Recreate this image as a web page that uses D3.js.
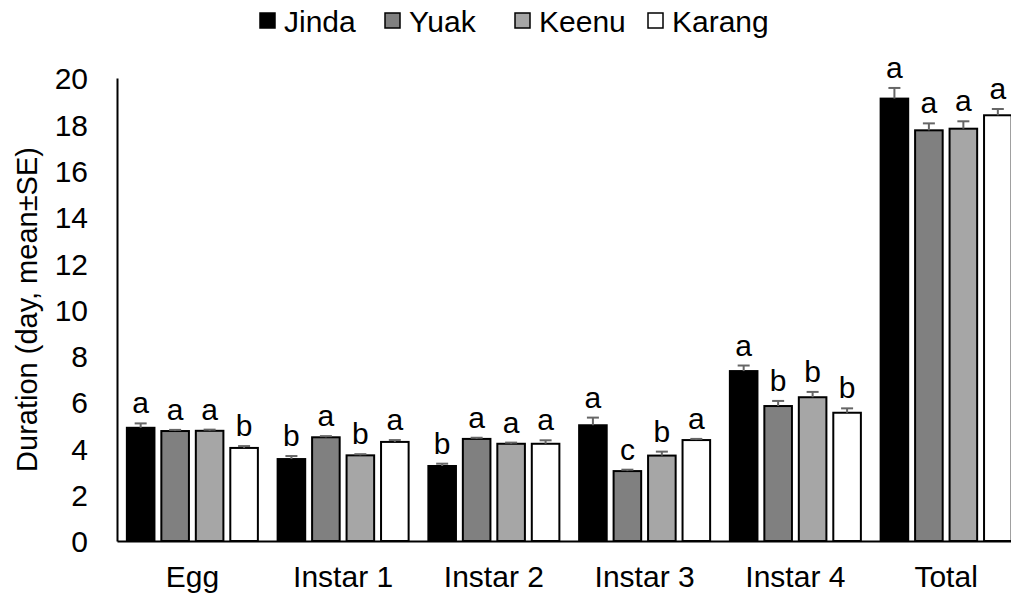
<!DOCTYPE html>
<html>
<head>
<meta charset="utf-8">
<script src="https://cdn.jsdelivr.net/npm/d3@7"></script>
<style>
  html, body { margin: 0; padding: 0; background: #fff; }
  text { font-family: "Liberation Sans", Arial, sans-serif; fill: #000; }
</style>
</head>
<body>
<svg id="chart" width="1011" height="597"></svg>
<script>
// Development stage durations by cultivar
const stages = ["Egg", "Instar 1", "Instar 2", "Instar 3", "Instar 4", "Total"];
const cultivars = ["Jinda", "Yuak", "Keenu", "Karang"];
const colors = ["#000000", "#808080", "#a6a6a6", "#ffffff"];

// mean duration (days) per stage, one array per cultivar
const jinda  = [4.89, 3.54, 3.24, 5.00, 7.34, 19.11];
const yuak   = [4.75, 4.48, 4.41, 3.02, 5.83, 17.74];
const keenu  = [4.76, 3.70, 4.20, 3.69, 6.21, 17.81];
const karang = [4.02, 4.28, 4.20, 4.36, 5.54, 18.39];

// standard errors
const jindaSE  = [0.19, 0.13, 0.10, 0.33, 0.24, 0.46];
const yuakSE   = [0.05, 0.05, 0.05, 0.06, 0.22, 0.30];
const keenuSE  = [0.05, 0.05, 0.05, 0.17, 0.23, 0.32];
const karangSE = [0.08, 0.08, 0.15, 0.05, 0.19, 0.27];

// significance letters
const jindaSig  = ["a", "b", "b", "a", "a", "a"];
const yuakSig   = ["a", "a", "a", "c", "b", "a"];
const keenuSig  = ["a", "b", "a", "b", "b", "a"];
const karangSig = ["b", "a", "a", "a", "b", "a"];

const yTicks = [0, 2, 4, 6, 8, 10, 12, 14, 16, 18, 20];
const yTitle = "Duration (day, mean\u00B1SE)";

const means = [jinda, yuak, keenu, karang];
const ses = [jindaSE, yuakSE, keenuSE, karangSE];
const sigs = [jindaSig, yuakSig, keenuSig, karangSig];

const rows = [];
stages.forEach((s, i) => {
  cultivars.forEach((c, j) => {
    rows.push({ stage: s, cultivar: c, ci: j, mean: means[j][i], se: ses[j][i], sig: sigs[j][i] });
  });
});

const svg = d3.select("#chart");
const plotLeft = 117, plotRight = 1021.5, plotTop = 78, plotBottom = 541;

const x0 = d3.scaleBand().domain(stages).range([plotLeft, plotRight]).paddingInner(0.131).paddingOuter(0.0655);
const x1 = d3.scaleBand().domain(cultivars).range([0, x0.bandwidth()]).paddingInner(0.2).paddingOuter(0);
const y = d3.scaleLinear().domain([0, 20]).range([plotBottom, plotTop]);
const color = d3.scaleOrdinal().domain(cultivars).range(colors);

// y axis: line plus labels, no tick marks
const yAxis = svg.append("g").attr("transform", `translate(${plotLeft},0)`)
  .call(d3.axisLeft(y).tickValues(yTicks).tickSize(0).tickPadding(29).tickFormat(d3.format("d")));
yAxis.select(".domain").attr("stroke", "#000").attr("stroke-width", 2);
yAxis.selectAll("text").style("font-size", "30px").style("font-family", "'Liberation Sans', Arial, sans-serif").attr("dy", "0.36em");

// bars
const bars = svg.append("g");
bars.selectAll("rect").data(rows).join("rect")
  .attr("x", d => x0(d.stage) + x1(d.cultivar))
  .attr("y", d => y(d.mean))
  .attr("width", x1.bandwidth())
  .attr("height", d => y(0) - y(d.mean))
  .attr("fill", d => color(d.cultivar))
  .attr("stroke", "#000")
  .attr("stroke-width", 2);

// upper error bars
const err = svg.append("g").attr("stroke", "#666").attr("stroke-width", 2).attr("fill", "none");
rows.forEach(d => {
  const cx = x0(d.stage) + x1(d.cultivar) + x1.bandwidth() / 2;
  err.append("line").attr("x1", cx).attr("x2", cx).attr("y1", y(d.mean)).attr("y2", y(d.mean + d.se));
  err.append("line").attr("x1", cx - 6).attr("x2", cx + 6).attr("y1", y(d.mean + d.se)).attr("y2", y(d.mean + d.se));
});

// significance letters
svg.append("g").selectAll("text").data(rows).join("text")
  .attr("x", d => x0(d.stage) + x1(d.cultivar) + x1.bandwidth() / 2)
  .attr("y", d => y(d.mean + d.se) - 10)
  .attr("text-anchor", "middle")
  .style("font-size", "30px")
  .text(d => d.sig);

// x axis
const xAxis = svg.append("g").attr("transform", `translate(0,${plotBottom})`)
  .call(d3.axisBottom(x0).tickSize(0).tickPadding(25));
xAxis.select(".domain").attr("stroke", "#000").attr("stroke-width", 2);
xAxis.selectAll("text").style("font-size", "30px").style("font-family", "'Liberation Sans', Arial, sans-serif");

// y axis title
svg.append("text")
  .attr("transform", `translate(37,${(plotTop + plotBottom) / 2}) rotate(-90)`)
  .attr("text-anchor", "middle")
  .style("font-size", "29px")
  .text(yTitle);

// legend
const legendX = [260, 385, 515, 648];
const legend = svg.append("g");
cultivars.forEach((c, j) => {
  legend.append("rect").attr("x", legendX[j]).attr("y", 13).attr("width", 15).attr("height", 15)
    .attr("fill", color(c)).attr("stroke", "#000").attr("stroke-width", 1.5);
  legend.append("text").attr("x", legendX[j] + 24).attr("y", 32).style("font-size", "30px").text(c);
});
</script>
</body>
</html>
